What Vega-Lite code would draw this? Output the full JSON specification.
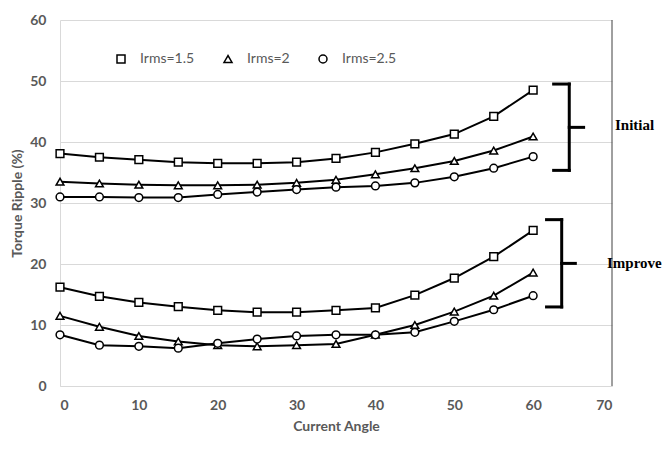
{
  "$schema": "https://vega.github.io/schema/vega-lite/v6.json",
  "width": 552,
  "height": 366,
  "autosize": {"type": "none"},
  "padding": {"left": 60, "top": 20, "right": 54, "bottom": 76},
  "background": "white",
  "datasets": {
    "ripple": [
      {"angle": 0, "ripple": 38.1, "series": "Irms=1.5", "state": "Initial"},
      {"angle": 5, "ripple": 37.5, "series": "Irms=1.5", "state": "Initial"},
      {"angle": 10, "ripple": 37.1, "series": "Irms=1.5", "state": "Initial"},
      {"angle": 15, "ripple": 36.7, "series": "Irms=1.5", "state": "Initial"},
      {"angle": 20, "ripple": 36.5, "series": "Irms=1.5", "state": "Initial"},
      {"angle": 25, "ripple": 36.5, "series": "Irms=1.5", "state": "Initial"},
      {"angle": 30, "ripple": 36.7, "series": "Irms=1.5", "state": "Initial"},
      {"angle": 35, "ripple": 37.3, "series": "Irms=1.5", "state": "Initial"},
      {"angle": 40, "ripple": 38.3, "series": "Irms=1.5", "state": "Initial"},
      {"angle": 45, "ripple": 39.7, "series": "Irms=1.5", "state": "Initial"},
      {"angle": 50, "ripple": 41.3, "series": "Irms=1.5", "state": "Initial"},
      {"angle": 55, "ripple": 44.2, "series": "Irms=1.5", "state": "Initial"},
      {"angle": 60, "ripple": 48.5, "series": "Irms=1.5", "state": "Initial"},
      {"angle": 0, "ripple": 33.5, "series": "Irms=2", "state": "Initial"},
      {"angle": 5, "ripple": 33.2, "series": "Irms=2", "state": "Initial"},
      {"angle": 10, "ripple": 33.0, "series": "Irms=2", "state": "Initial"},
      {"angle": 15, "ripple": 32.9, "series": "Irms=2", "state": "Initial"},
      {"angle": 20, "ripple": 32.9, "series": "Irms=2", "state": "Initial"},
      {"angle": 25, "ripple": 33.0, "series": "Irms=2", "state": "Initial"},
      {"angle": 30, "ripple": 33.3, "series": "Irms=2", "state": "Initial"},
      {"angle": 35, "ripple": 33.8, "series": "Irms=2", "state": "Initial"},
      {"angle": 40, "ripple": 34.7, "series": "Irms=2", "state": "Initial"},
      {"angle": 45, "ripple": 35.7, "series": "Irms=2", "state": "Initial"},
      {"angle": 50, "ripple": 36.9, "series": "Irms=2", "state": "Initial"},
      {"angle": 55, "ripple": 38.6, "series": "Irms=2", "state": "Initial"},
      {"angle": 60, "ripple": 40.9, "series": "Irms=2", "state": "Initial"},
      {"angle": 0, "ripple": 31.0, "series": "Irms=2.5", "state": "Initial"},
      {"angle": 5, "ripple": 31.0, "series": "Irms=2.5", "state": "Initial"},
      {"angle": 10, "ripple": 30.9, "series": "Irms=2.5", "state": "Initial"},
      {"angle": 15, "ripple": 30.9, "series": "Irms=2.5", "state": "Initial"},
      {"angle": 20, "ripple": 31.4, "series": "Irms=2.5", "state": "Initial"},
      {"angle": 25, "ripple": 31.8, "series": "Irms=2.5", "state": "Initial"},
      {"angle": 30, "ripple": 32.2, "series": "Irms=2.5", "state": "Initial"},
      {"angle": 35, "ripple": 32.6, "series": "Irms=2.5", "state": "Initial"},
      {"angle": 40, "ripple": 32.8, "series": "Irms=2.5", "state": "Initial"},
      {"angle": 45, "ripple": 33.3, "series": "Irms=2.5", "state": "Initial"},
      {"angle": 50, "ripple": 34.3, "series": "Irms=2.5", "state": "Initial"},
      {"angle": 55, "ripple": 35.7, "series": "Irms=2.5", "state": "Initial"},
      {"angle": 60, "ripple": 37.6, "series": "Irms=2.5", "state": "Initial"},
      {"angle": 0, "ripple": 16.2, "series": "Irms=1.5", "state": "Improve"},
      {"angle": 5, "ripple": 14.7, "series": "Irms=1.5", "state": "Improve"},
      {"angle": 10, "ripple": 13.7, "series": "Irms=1.5", "state": "Improve"},
      {"angle": 15, "ripple": 13.0, "series": "Irms=1.5", "state": "Improve"},
      {"angle": 20, "ripple": 12.4, "series": "Irms=1.5", "state": "Improve"},
      {"angle": 25, "ripple": 12.1, "series": "Irms=1.5", "state": "Improve"},
      {"angle": 30, "ripple": 12.1, "series": "Irms=1.5", "state": "Improve"},
      {"angle": 35, "ripple": 12.4, "series": "Irms=1.5", "state": "Improve"},
      {"angle": 40, "ripple": 12.8, "series": "Irms=1.5", "state": "Improve"},
      {"angle": 45, "ripple": 14.9, "series": "Irms=1.5", "state": "Improve"},
      {"angle": 50, "ripple": 17.7, "series": "Irms=1.5", "state": "Improve"},
      {"angle": 55, "ripple": 21.2, "series": "Irms=1.5", "state": "Improve"},
      {"angle": 60, "ripple": 25.5, "series": "Irms=1.5", "state": "Improve"},
      {"angle": 0, "ripple": 11.5, "series": "Irms=2", "state": "Improve"},
      {"angle": 5, "ripple": 9.7, "series": "Irms=2", "state": "Improve"},
      {"angle": 10, "ripple": 8.2, "series": "Irms=2", "state": "Improve"},
      {"angle": 15, "ripple": 7.3, "series": "Irms=2", "state": "Improve"},
      {"angle": 20, "ripple": 6.7, "series": "Irms=2", "state": "Improve"},
      {"angle": 25, "ripple": 6.5, "series": "Irms=2", "state": "Improve"},
      {"angle": 30, "ripple": 6.7, "series": "Irms=2", "state": "Improve"},
      {"angle": 35, "ripple": 6.9, "series": "Irms=2", "state": "Improve"},
      {"angle": 40, "ripple": 8.4, "series": "Irms=2", "state": "Improve"},
      {"angle": 45, "ripple": 10.0, "series": "Irms=2", "state": "Improve"},
      {"angle": 50, "ripple": 12.2, "series": "Irms=2", "state": "Improve"},
      {"angle": 55, "ripple": 14.8, "series": "Irms=2", "state": "Improve"},
      {"angle": 60, "ripple": 18.6, "series": "Irms=2", "state": "Improve"},
      {"angle": 0, "ripple": 8.4, "series": "Irms=2.5", "state": "Improve"},
      {"angle": 5, "ripple": 6.7, "series": "Irms=2.5", "state": "Improve"},
      {"angle": 10, "ripple": 6.5, "series": "Irms=2.5", "state": "Improve"},
      {"angle": 15, "ripple": 6.2, "series": "Irms=2.5", "state": "Improve"},
      {"angle": 20, "ripple": 7.0, "series": "Irms=2.5", "state": "Improve"},
      {"angle": 25, "ripple": 7.7, "series": "Irms=2.5", "state": "Improve"},
      {"angle": 30, "ripple": 8.2, "series": "Irms=2.5", "state": "Improve"},
      {"angle": 35, "ripple": 8.4, "series": "Irms=2.5", "state": "Improve"},
      {"angle": 40, "ripple": 8.4, "series": "Irms=2.5", "state": "Improve"},
      {"angle": 45, "ripple": 8.8, "series": "Irms=2.5", "state": "Improve"},
      {"angle": 50, "ripple": 10.6, "series": "Irms=2.5", "state": "Improve"},
      {"angle": 55, "ripple": 12.5, "series": "Irms=2.5", "state": "Improve"},
      {"angle": 60, "ripple": 14.8, "series": "Irms=2.5", "state": "Improve"}
    ],
    "edge": [
      {"angle": 70, "angle2": 70, "ripple": 0, "ripple2": 60}
    ],
    "brackets": [
      {"angle": 64.58, "angle2": 64.58, "ripple": 49.5, "ripple2": 35.35},
      {"angle": 62.6, "angle2": 64.58, "ripple": 49.5, "ripple2": 49.5},
      {"angle": 62.6, "angle2": 64.58, "ripple": 35.35, "ripple2": 35.35},
      {"angle": 64.58, "angle2": 66.4, "ripple": 42.4, "ripple2": 42.4},
      {"angle": 63.62, "angle2": 63.62, "ripple": 27.27, "ripple2": 12.96},
      {"angle": 61.7, "angle2": 63.62, "ripple": 27.27, "ripple2": 27.27},
      {"angle": 61.7, "angle2": 63.62, "ripple": 12.96, "ripple2": 12.96},
      {"angle": 63.62, "angle2": 65.35, "ripple": 20.1, "ripple2": 20.1}
    ],
    "notes": [
      {"angle": 70.38, "ripple": 42.8, "label": "Initial"},
      {"angle": 69.37, "ripple": 20.2, "label": "Improve"}
    ]
  },
  "encoding": {
    "x": {
      "field": "angle",
      "type": "quantitative",
      "title": "Current Angle",
      "scale": {"domain": [0, 70], "nice": false, "zero": false},
      "axis": {
        "values": [0, 10, 20, 30, 40, 50, 60, 70],
        "grid": false,
        "labelPadding": 12,
        "titlePadding": 7
      }
    },
    "y": {
      "field": "ripple",
      "type": "quantitative",
      "title": "Torque Ripple (%)",
      "scale": {"domain": [0, 60], "nice": false},
      "axis": {
        "values": [0, 10, 20, 30, 40, 50, 60],
        "grid": true,
        "labelPadding": 14,
        "titlePadding": 5
      }
    }
  },
  "layer": [
    {
      "data": {"name": "edge"},
      "mark": {"type": "rule", "color": "#404040", "strokeWidth": 1},
      "encoding": {"y2": {"field": "ripple2"}}
    },
    {
      "data": {"name": "ripple"},
      "mark": {"type": "line", "color": "black", "strokeWidth": 2},
      "encoding": {
        "detail": [{"field": "series"}, {"field": "state"}],
        "order": {"field": "angle"}
      }
    },
    {
      "data": {"name": "ripple"},
      "mark": {
        "type": "point",
        "fill": "white",
        "stroke": "black",
        "strokeWidth": 1.5,
        "opacity": 1,
        "fillOpacity": 1,
        "size": 60
      },
      "encoding": {
        "shape": {
          "field": "series",
          "type": "nominal",
          "scale": {
            "domain": ["Irms=1.5", "Irms=2", "Irms=2.5"],
            "range": ["square", "triangle-up", "circle"]
          },
          "legend": {
            "orient": "none",
            "direction": "horizontal",
            "legendX": 54,
            "legendY": 32,
            "title": null,
            "padding": 0,
            "labelFont": "Lato",
            "labelFontSize": 14,
            "labelColor": "#595959",
            "labelOffset": 12,
            "columnPadding": 26,
            "symbolSize": 64
          }
        }
      }
    },
    {
      "data": {"name": "brackets"},
      "mark": {"type": "rule", "color": "black", "strokeWidth": 3, "strokeCap": "square"},
      "encoding": {
        "x2": {"field": "angle2"},
        "y2": {"field": "ripple2"}
      }
    },
    {
      "data": {"name": "notes"},
      "mark": {
        "type": "text",
        "font": "Liberation Serif",
        "fontSize": 15,
        "fontWeight": "bold",
        "color": "black",
        "align": "left",
        "baseline": "middle"
      },
      "encoding": {"text": {"field": "label"}}
    }
  ],
  "config": {
    "view": {"stroke": null},
    "axis": {
      "labelFont": "Lato",
      "labelFontSize": 14,
      "labelFontWeight": "bold",
      "labelColor": "#595959",
      "titleFont": "Lato",
      "titleFontSize": 14,
      "titleFontWeight": "bold",
      "titleColor": "#595959",
      "ticks": false,
      "domainColor": "#d9d9d9",
      "gridColor": "#d9d9d9",
      "gridWidth": 1
    }
  }
}
